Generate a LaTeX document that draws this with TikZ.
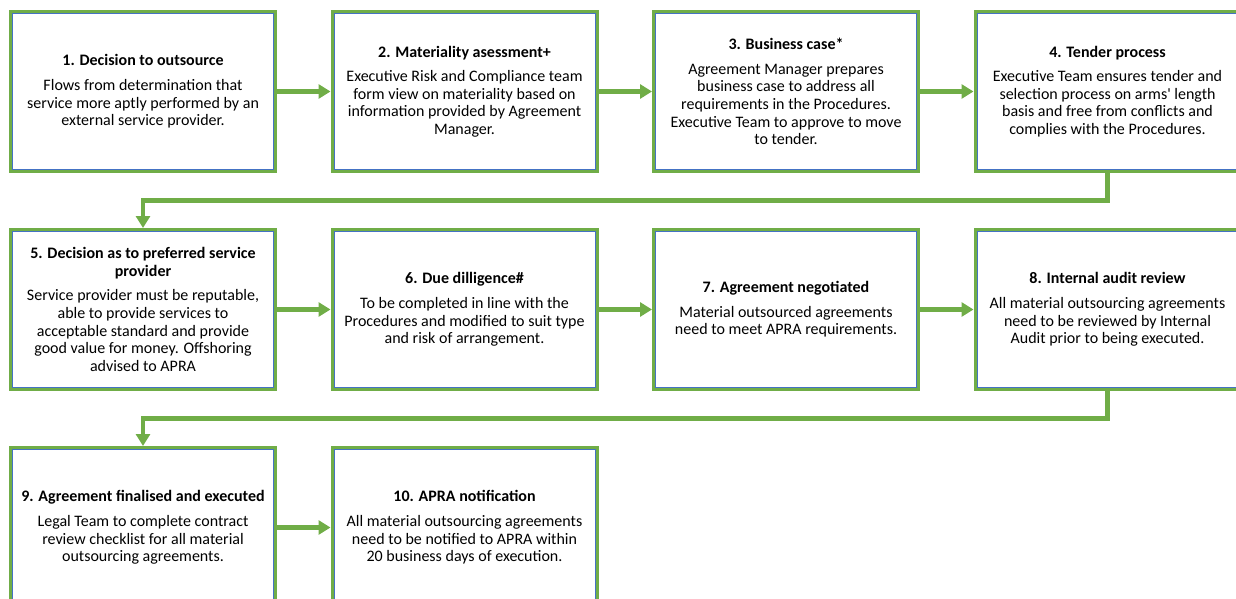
\documentclass[tikz,border=0pt]{standalone}
\usepackage{fontspec}
\setmainfont{Carlito}[Ligatures=TeXOff]
\usetikzlibrary{arrows.meta,positioning}
\definecolor{leaf}{HTML}{70AD47}
\definecolor{edge}{HTML}{4472C4}

\begin{document}
\begin{tikzpicture}[x=1pt,y=1pt,
  stage/.style={draw=leaf,line width=3pt,outer sep=0pt,minimum width=265pt,minimum height=160pt,anchor=north west,align=center,inner sep=3pt,font=\fontsize{16}{17.6}\selectfont},
  flow/.style={draw=leaf,line width=4.5pt,shorten >=1.5pt,-{Triangle[length=12pt,width=14pt]}}]
\useasboundingbox (0,0) rectangle (1236,-599);\clip (0,0) rectangle (1236,-599);
% row 1
\node[stage] (b1) at (10.5,-11.5) {\textbf{1. Decision to outsource}\\[7pt]Flows from determination that\\service more aptly performed by an\\external service provider.};
\node[stage] (b2) at (332,-11.5) {\textbf{2. Materiality asessment+}\\[7pt]Executive Risk and Compliance team\\form view on materiality based on\\information provided by Agreement\\Manager.};
\node[stage] (b3) at (653.5,-11.5) {\textbf{3. Business case*}\\[7pt]Agreement Manager prepares\\business case to address all\\requirements in the Procedures.\\Executive Team to approve to move\\to tender.};
\node[stage] (b4) at (975,-11.5) {\textbf{4. Tender process}\\[7pt]Executive Team ensures tender and\\selection process on arms' length\\basis and free from conflicts and\\complies with the Procedures.};
% row 2
\node[stage] (b5) at (10.5,-229.5) {\textbf{5. Decision as to preferred service}\\\textbf{provider}\\[7pt]Service provider must be reputable,\\able to provide services to\\acceptable standard and provide\\good value for money. Offshoring\\advised to APRA};
\node[stage] (b6) at (332,-229.5) {\textbf{6. Due dilligence\#}\\[7pt]To be completed in line with the\\Procedures and modified to suit type\\and risk of arrangement.};
\node[stage] (b7) at (653.5,-229.5) {\textbf{7. Agreement negotiated}\\[7pt]Material outsourced agreements\\need to meet APRA requirements.};
\node[stage] (b8) at (975,-229.5) {\textbf{8. Internal audit review}\\[7pt]All material outsourcing agreements\\need to be reviewed by Internal\\Audit prior to being executed.};
% row 3
\node[stage] (b9) at (10.5,-447.5) {\textbf{9. Agreement finalised and executed}\\[7pt]Legal Team to complete contract\\review checklist for all material\\outsourcing agreements.};
\node[stage] (b10) at (332,-447.5) {\textbf{10. APRA notification}\\[7pt]All material outsourcing agreements\\need to be notified to APRA within\\20 business days of execution.};
% thin blue rule inside each box
\foreach \n in {b1,b2,b3,b4,b5,b6,b7,b8,b9,b10}
  \draw[edge,line width=.9pt] ([shift={(2,-2)}]\n.north west) rectangle ([shift={(-2,2)}]\n.south east);
% connectors
\draw[flow] (b1.east) -- (b2.west);\draw[flow] (b2.east) -- (b3.west);\draw[flow] (b3.east) -- (b4.west);
\draw[flow] (b4.south) -- ++(0,-29) -| (b5.north);
\draw[flow] (b5.east) -- (b6.west);\draw[flow] (b6.east) -- (b7.west);\draw[flow] (b7.east) -- (b8.west);
\draw[flow] (b8.south) -- ++(0,-29) -| (b9.north);
\draw[flow] (b9.east) -- (b10.west);
\end{tikzpicture}
\end{document}
